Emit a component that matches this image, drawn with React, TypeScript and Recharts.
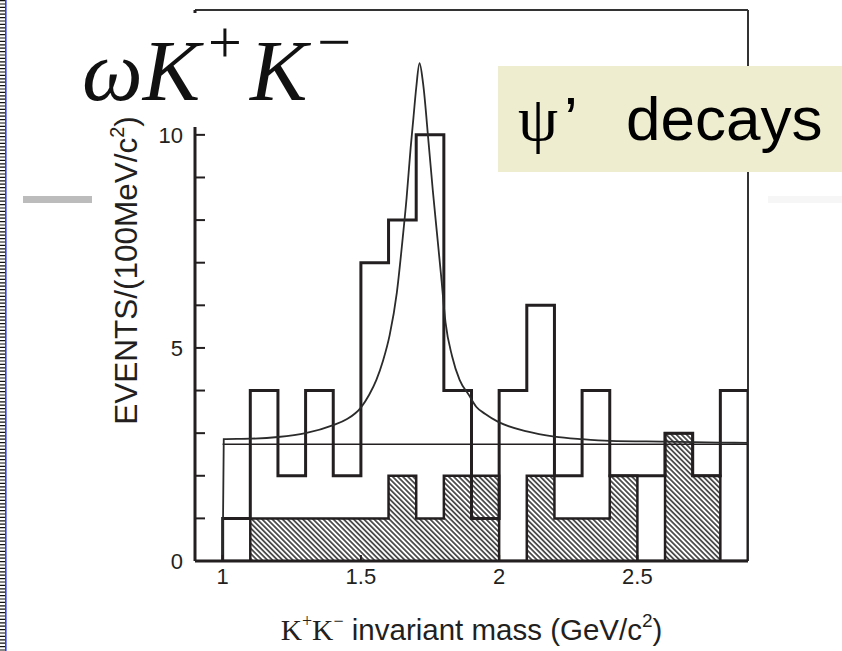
import { Area, ComposedChart, Line, ReferenceLine, XAxis, YAxis } from 'recharts'

// K+K- invariant mass, omega K+K- from psi' decays
const binStart = [1.0, 1.1, 1.2, 1.3, 1.4, 1.5, 1.6, 1.7, 1.8, 1.9, 2.0, 2.1, 2.2, 2.3, 2.4, 2.5, 2.6, 2.7, 2.8]
const binEnd = 2.9
const allEvents = [1, 4, 2, 4, 2, 7, 8, 10, 4, 1, 4, 6, 2, 4, 2, 2, 3, 2, 4]
const sidebandEvents = [0, 1, 1, 1, 1, 1, 2, 1, 2, 2, 0, 2, 1, 1, 2, 0, 3, 2, 0]

// fit curve
const fitMass = [
  1.0, 1.004, 1.1, 1.2, 1.3, 1.4, 1.45, 1.5, 1.53, 1.556, 1.58, 1.604, 1.63, 1.65, 1.665, 1.68, 1.69, 1.7, 1.712,
  1.725, 1.745, 1.76, 1.775, 1.79, 1.806, 1.83, 1.857, 1.89, 1.917, 1.95, 1.995, 2.1, 2.2, 2.3, 2.4, 2.6, 2.8, 2.9,
]
const fitEvents = [
  0, 2.86, 2.87, 2.91, 3.0, 3.19, 3.33, 3.6, 3.9, 4.25, 4.7, 5.3, 6.3, 7.5, 8.5, 9.7, 10.4, 11.1, 11.68,
  11.2, 9.8, 8.7, 7.7, 6.7, 5.6, 4.8, 4.25, 3.9, 3.62, 3.45, 3.27, 3.04, 2.92, 2.86, 2.82, 2.8, 2.78, 2.77,
]
const bgMass = [1.0, 2.9]
const bgEvents = [2.74, 2.74]

const xDomain = [0.9, 2.9]
const yMax = 12.93
const xTicks = [1, 1.5, 2, 2.5]
const yTicks = [0, 1, 2, 3, 4, 5, 6, 7, 8, 9, 10, 11, 12]
const yLabelled = [0, 5, 10]

const INK = '#231f20'
const SANS = "'Liberation Sans', Arial, Helvetica, sans-serif"
const SERIF = "'Liberation Serif', 'Times New Roman', serif"

function steps(counts: number[]) {
  return [
    { m: binStart[0], n: 0 },
    ...binStart.map((m, i) => ({ m, n: counts[i] })),
    { m: binEnd, n: 0 },
  ]
}

const allSteps = steps(allEvents)
const sideSteps = steps(sidebandEvents)
const fit = fitMass.map((m, i) => ({ m, n: fitEvents[i] }))
const bg = bgMass.map((m, i) => ({ m, n: bgEvents[i] }))

function YTitle({ viewBox }: any) {
  const cx = viewBox.x + 37
  const cy = viewBox.y + viewBox.height / 2 - 15
  return (
    <text
      x={cx}
      y={cy}
      transform={`rotate(-90 ${cx} ${cy})`}
      textAnchor="middle"
      fontSize={31.5}
      fontFamily={SANS}
      fill={INK}
    >
      EVENTS/(100MeV/c
      <tspan dy={-13} fontSize={20}>
        2
      </tspan>
      <tspan dy={13}>)</tspan>
    </text>
  )
}

function XTitle({ viewBox }: any) {
  const cx = viewBox.x + viewBox.width / 2
  const cy = viewBox.y + 79
  return (
    <text x={cx} y={cy} textAnchor="middle" fontSize={29.5} fontFamily={SANS} fill={INK}>
      <tspan fontFamily={SERIF}>K</tspan>
      <tspan fontFamily={SERIF} fontSize={18} dy={-13}>
        +
      </tspan>
      <tspan fontFamily={SERIF} dy={13}>
        K
      </tspan>
      <tspan fontFamily={SERIF} fontSize={18} dy={-13}>
        −
      </tspan>
      <tspan dy={13}> invariant mass (GeV/c</tspan>
      <tspan fontSize={19} dy={-13}>
        2
      </tspan>
      <tspan dy={13}>)</tspan>
    </text>
  )
}

export default function App() {
  return (
    <div style={{ position: 'absolute', left: 0, top: 0, width: 842, height: 651, background: '#fff' }}>
      <ComposedChart width={842} height={651} margin={{ top: 10, right: 94, bottom: 50, left: 100 }}>
        <defs>
          <pattern id="hatch" patternUnits="userSpaceOnUse" width={3.6} height={3.6} patternTransform="rotate(-45)">
            <rect width={3.6} height={3.6} fill="#fff" />
            <line x1={1.8} y1={0} x2={1.8} y2={3.6} stroke="#2a2a2a" strokeWidth={1.5} />
          </pattern>
        </defs>
        <XAxis
          dataKey="m"
          type="number"
          domain={xDomain}
          ticks={xTicks}
          allowDataOverflow
          height={40}
          tickSize={-6}
          tickMargin={13}
          axisLine={{ stroke: INK, strokeWidth: 3 }}
          tickLine={{ stroke: INK, strokeWidth: 2 }}
          tick={{ fill: INK, fontSize: 22, fontFamily: SANS }}
          label={<XTitle />}
        />
        <YAxis
          type="number"
          domain={[0, yMax]}
          ticks={yTicks}
          allowDataOverflow
          width={95}
          tickSize={-10}
          tickMargin={22}
          tickFormatter={(v: number) => (yLabelled.includes(v) ? String(v) : '')}
          axisLine={{ stroke: INK, strokeWidth: 3 }}
          tickLine={{ stroke: INK, strokeWidth: 2 }}
          tick={{ fill: INK, fontSize: 22, fontFamily: SANS }}
          label={<YTitle />}
        />
        <ReferenceLine y={yMax} stroke="#333" strokeWidth={2} />
        <ReferenceLine x={binEnd} stroke="#333" strokeWidth={2} />
        <Area
          data={sideSteps}
          dataKey="n"
          type="stepAfter"
          fill="url(#hatch)"
          fillOpacity={1}
          stroke={INK}
          strokeWidth={2.5}
          isAnimationActive={false}
        />
        <Line
          data={allSteps}
          dataKey="n"
          type="stepAfter"
          stroke={INK}
          strokeWidth={3}
          dot={false}
          isAnimationActive={false}
        />
        <Line
          data={bg}
          dataKey="n"
          type="linear"
          stroke={INK}
          strokeWidth={1.6}
          dot={false}
          isAnimationActive={false}
        />
        <Line
          data={fit}
          dataKey="n"
          type="monotone"
          stroke="#2b2b2b"
          strokeWidth={1.8}
          dot={false}
          isAnimationActive={false}
        />
      </ComposedChart>
      <svg width={842} height={651} style={{ position: 'absolute', left: 0, top: 0, pointerEvents: 'none' }}>
        <line x1={2.5} y1={0} x2={2.5} y2={651} stroke="#111" strokeWidth={5} strokeDasharray="1.2 2.2" />
        <line x1={5.8} y1={0} x2={5.8} y2={651} stroke="#2b3cff" strokeWidth={1.6} />
        <rect x={23} y={196} width={69} height={7} fill="#bcbcbc" />
        <rect x={768} y={196} width={74} height={7} fill="#f6f6f6" />
        <rect x={150} y={13} width={230} height={114} fill="#fff" />
        <text x={82} y={100} fontFamily={SERIF} fontStyle="italic" fontSize={86} fill="#111">
          ωK
          <tspan fontStyle="normal" fontSize={60} dy={-38} dx={8}>
            +
          </tspan>
          <tspan dy={38} dx={8}>
            K
          </tspan>
          <tspan fontStyle="normal" fontSize={60} dy={-38} dx={10}>
            −
          </tspan>
        </text>
        <rect x={498} y={66} width={344} height={106} fill="#eeedd0" />
        <text y={140} fontSize={62} fill="#000">
          <tspan x={518} fontFamily={SERIF} fontSize={64}>
            ψ
          </tspan>
          <tspan x={564} fontFamily={SANS}>
            ’
          </tspan>
          <tspan x={626} fontFamily={SANS}>
            decays
          </tspan>
        </text>
      </svg>
    </div>
  )
}
